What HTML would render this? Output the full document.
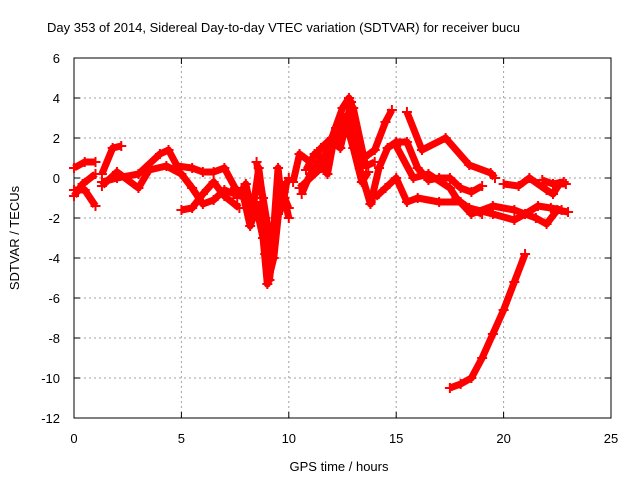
<!DOCTYPE html>
<html><head><meta charset="utf-8"><style>
body{margin:0;background:#fff}
svg{display:block;font-family:"Liberation Sans",sans-serif;font-size:13px}
</style></head><body>
<svg id="chart" width="640" height="480">
<rect width="640" height="480" fill="#fff"/>
<text x="47" y="32">Day 353 of 2014, Sidereal Day-to-day VTEC variation (SDTVAR) for receiver bucu</text>
<g id="grid"></g>
<g id="axes"></g>
<g id="series"></g>
<text x="339" y="471" text-anchor="middle">GPS time / hours</text>
<text transform="translate(19,238) rotate(-90)" text-anchor="middle">SDTVAR / TECUs</text>
</svg>
<script>
const xTicks=[0,5,10,15,20,25];
const yTicks=[6,4,2,0,-2,-4,-6,-8,-10,-12];
const trackA=[[0,0.5],[0.5,0.8],[1,0.8]];
const trackB=[[0,-0.9],[0.4,-0.3],[1,0.2]];
const trackC=[[0,-0.6],[0.5,-0.6],[1,-1.4]];
const trackD=[[1.3,0.2],[1.8,1.5],[2.2,1.6]];
const trackE=[[1.3,-0.2],[2,0],[3,0.2],[4,1.2],[4.4,1.4],[4.8,0.6],[5.5,0.5],[6,0.3],[6.5,0.3],[7,0.5],[7.5,-0.5],[8,-1],[8.3,-1.6]];
const trackF=[[1.3,-0.4],[2,0.3],[3,-0.5],[3.5,0.4],[4.3,0.6],[5,0.2],[5.5,-0.5],[6,-1.3],[6.5,-1.1],[7,-0.6],[7.5,-0.8]];
const trackF2=[[5,-1.6],[5.5,-1.5],[6,-0.8],[6.5,-0.2],[7,-0.9],[7.7,-1.5]];
const trackG=[[7.8,-0.5],[8.2,-2.4],[8.5,-1.5],[8.8,-3],[9,-5.3],[9.3,-4],[9.6,-1],[10,0]];
const trackH=[[8.5,0.8],[8.8,-1],[9.1,-3],[9.4,-2],[9.7,-0.5],[10,-2]];
const trackG2=[[7.6,-1],[8,-0.3],[8.3,-1.8],[8.6,0.5],[8.9,-2],[9.1,-4.5],[9.3,-2.5],[9.5,0.5],[9.7,-1.5],[9.9,-0.2]];
const trackG3=[[8.7,-1.2],[8.9,-3.8],[9.1,-5.1],[9.3,-3.2],[9.5,-1.8],[9.8,-1],[10,-1.5]];
const trackI=[[10.2,-0.2],[10.5,1.2],[11,0.8],[11.5,1.5],[12,2],[12.5,3.5],[12.8,4],[13,2.5],[13.3,0.5],[13.8,-1.3],[14.2,0.5],[14.6,1.5],[15,1.8],[15.5,1.8],[16,0.5],[16.5,-0.1],[17,0],[17.5,0],[18,-0.5],[18.5,-0.7],[19,-0.4]];
const trackJ=[[10.5,-0.5],[11.5,0.5],[12.5,2.5],[13,3.5],[13.5,1],[14,1.4],[14.5,2.8],[14.8,3.4]];
const trackI2=[[10.6,-0.8],[11,0.2],[11.4,0.8],[11.8,0.2],[12.2,2.5],[12.6,3],[13,1.5],[13.4,-0.2],[13.7,0.3]];
const trackI3=[[10.8,0.4],[11.2,1.2],[11.6,1],[12,1.8],[12.4,1.5],[12.9,3.8],[13.2,2],[13.6,0.6],[14,0.8]];
const trackK=[[14,-1],[14.5,-0.5],[15,0],[15.5,-1.2],[16,-1],[17,-1.2],[18,-1.2],[18.5,-1.6],[19,-1.8]];
const trackL=[[15.5,3.3],[16.2,1.4],[17.3,2],[18.4,0.65],[19.4,0.25],[19.6,0]];
const trackM=[[15,1.6],[15.8,0],[16.5,0.2],[17.5,-0.5],[17.8,-1],[18.5,-1.8],[19.5,-1.4],[20.5,-1.6],[21.5,-2],[22,-2.3],[22.5,-1.6],[23,-1.7]];
const trackN=[[20,-0.3],[20.7,-0.4],[21.2,0],[22,-0.6],[22.3,-0.8],[22.6,-0.3],[22.9,-0.3]];
const trackO=[[21.8,-0.1],[22.3,-0.3],[22.8,-0.2]];
const trackP=[[18.4,-1.5],[19.5,-1.8],[20.5,-2.1],[21,-1.8],[21.6,-1.4],[22.2,-1.5],[22.7,-1.6]];
const trackQ=[[17.5,-10.5],[18,-10.3],[18.5,-10],[19,-9],[19.5,-7.8],[20,-6.6],[20.5,-5.2],[21,-3.8]];
const tracks=[trackA,trackB,trackC,trackD,trackE,trackF,trackF2,trackG,trackH,trackG2,trackG3,trackI,trackJ,trackI2,trackI3,trackK,trackL,trackM,trackN,trackO,trackP,trackQ];

const X0=74,X1=611,Y0=418,Y1=58;
const sx=v=>X0+(v-0)/(25-0)*(X1-X0);
const sy=v=>Y0-(v+12)/(18)*(Y0-Y1);
const NS='http://www.w3.org/2000/svg';
function mk(t,a,p){const e=document.createElementNS(NS,t);for(const k in a)e.setAttribute(k,a[k]);p.appendChild(e);return e;}
const grid=document.getElementById('grid'),axes=document.getElementById('axes'),ser=document.getElementById('series');
xTicks.forEach(t=>{
 const x=sx(t);
 if(t>0&&t<25){const l=mk('line',{x1:x,y1:Y0,x2:x,y2:Y1,stroke:'#a0a0a0','stroke-dasharray':'2,3'},grid);
 
 }
 mk('line',{x1:x,y1:Y0,x2:x,y2:Y0-6,stroke:'#000'},axes);
 mk('line',{x1:x,y1:Y1,x2:x,y2:Y1+6,stroke:'#000'},axes);
 const tx=mk('text',{x:x,y:Y0+25,'text-anchor':'middle'},axes);tx.textContent=t;
 
 
});
yTicks.forEach(t=>{
 const y=sy(t);
 if(t>-12&&t<6){const l=mk('line',{x1:X0,y1:y,x2:X1,y2:y,stroke:'#a0a0a0','stroke-dasharray':'2,3'},grid);
 
 }
 mk('line',{x1:X0,y1:y,x2:X0+6,y2:y,stroke:'#000'},axes);
 mk('line',{x1:X1,y1:y,x2:X1-6,y2:y,stroke:'#000'},axes);
 const tx=mk('text',{x:X0-14,y:y+5,'text-anchor':'end'},axes);tx.textContent=t;
 
 
});
mk('rect',{x:X0,y:Y1,width:X1-X0,height:Y0-Y1,fill:'none',stroke:'#000'},axes);
tracks.forEach((tr,i)=>{
 const pl=mk('polyline',{points:tr.map(p=>sx(p[0])+','+sy(p[1])).join(' '),fill:'none',stroke:'#f00','stroke-width':7,'stroke-linejoin':'round'},ser);
 
 
 tr.forEach(p=>{const x=sx(p[0]),y=sy(p[1]);
  const m=mk('path',{d:`M${x-5},${y}h10M${x},${y-5}v10`,stroke:'#f00','stroke-width':2},ser);
  
  });
});
</script>
</body></html>
